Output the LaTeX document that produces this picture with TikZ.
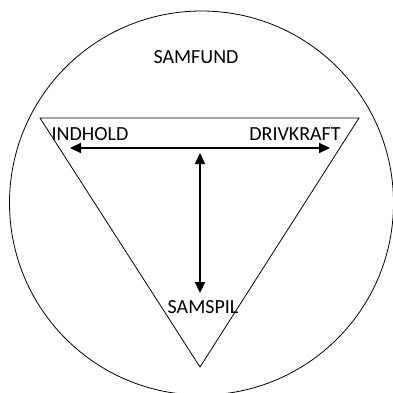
\documentclass[tikz,border=0pt]{standalone}
\usepackage{fontspec}
\setmainfont{Carlito}
\usetikzlibrary{arrows.meta}

\begin{document}
\begin{tikzpicture}[
  x=1pt, y=-1pt,
  lbl/.style={font=\fontsize{20}{22}\selectfont, inner sep=0pt},
  frame/.style={draw, line width=0.8pt},
  arr/.style={line width=2.2pt, {Triangle[length=11pt,width=10pt]}-{Triangle[length=11pt,width=10pt]}}
]
\useasboundingbox (0,0) rectangle (393,393);
\clip (0,0) rectangle (393,393);
\draw[frame] (201.5,203) circle[radius=192];
\draw[frame] (40,118) -- (359,118) -- (200,367) -- cycle;
\node[lbl] (samfund) at (196,57) {SAMFUND};
\node[lbl] (indhold) at (90,134) {INDHOLD};
\node[lbl] (drivkraft) at (295,134) {DRIVKRAFT};
\node[lbl] (samspil) at (203,307) {SAMSPIL};
\coordinate (hl) at (70,148);
\coordinate (hr) at (330,148);
\coordinate (vt) at (200,153);
\coordinate (vb) at (200,293);
\draw[arr] (hl) -- (hr);
\draw[arr] (vt) -- (vb);
\end{tikzpicture}
\end{document}
